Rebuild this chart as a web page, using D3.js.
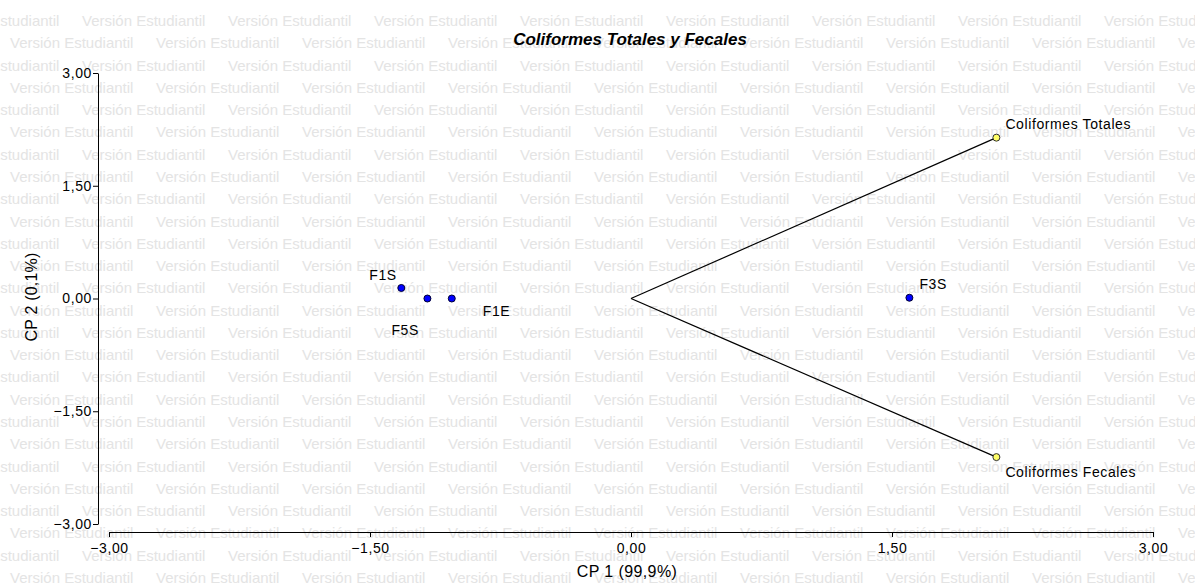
<!DOCTYPE html>
<html>
<head>
<meta charset="utf-8">
<script src="https://cdn.jsdelivr.net/npm/d3@7"></script>
<style>
  body { margin: 0; background: #fff; }
  text { font-family: "Liberation Sans", Arial, sans-serif; }
</style>
</head>
<body>
<div id="chart"></div>
<script>
// observations (blue) and variables (yellow)
var obsNames = ["F1S", "F5S", "F1E", "F3S"];
var obsX = [-1.32, -1.17, -1.03, 1.60];
var obsY = [0.14, 0.0, 0.0, 0.01];

var varNames = ["Coliformes Totales", "Coliformes Fecales"];
var varX = [2.10, 2.10];
var varY = [2.14, -2.11];

var ticks = [-3, -1.5, 0, 1.5, 3];

var W = 1195, H = 586;

var svg = d3.select("#chart")
  .append("svg")
  .attr("width", W)
  .attr("height", H);

// watermark
var wm = svg.append("g").attr("fill", "#e4e4e4").style("font-size", "15px");
for (var r = 0; r < 26; r++) {
  var yy = 26 + r * 22.28;
  var off = (r % 2 == 0) ? -64 : 10;
  for (var c = 0; c < 9; c++) {
    wm.append("text")
      .attr("x", off + c * 146)
      .attr("y", yy)
      .text("Versión Estudiantil");
  }
}

// scales
var x = d3.scaleLinear().domain([-3, 3]).range([109, 1153]);
var y = d3.scaleLinear().domain([-3, 3]).range([524, 73]);

var fmt = function(d) { return d3.format(".2f")(d).replace(".", ","); };

// axes
var yAxis = svg.append("g")
  .attr("transform", "translate(98,0)")
  .call(d3.axisLeft(y).tickValues(ticks).tickFormat(fmt).tickSize(5).tickSizeOuter(0));
var xAxis = svg.append("g")
  .attr("transform", "translate(0,532)")
  .call(d3.axisBottom(x).tickValues(ticks).tickFormat(fmt).tickSize(5).tickSizeOuter(0));

[xAxis, yAxis].forEach(function(a) {
  a.selectAll("text")
    .style("font-family", "'Liberation Sans', Arial, sans-serif")
    .style("font-size", "14px")
    .style("letter-spacing", "0.6px")
    .attr("fill", "#000");
  a.selectAll("line").attr("stroke", "#000");
  a.select(".domain").attr("stroke", "#000");
});
yAxis.selectAll("text").attr("x", -6);
xAxis.selectAll("text").attr("y", 11);

// title and axis labels
svg.append("text")
  .attr("x", 630).attr("y", 45)
  .attr("text-anchor", "middle")
  .style("font-size", "17px")
  .style("font-weight", "bold")
  .style("font-style", "italic")
  .text("Coliformes Totales y Fecales");

svg.append("text")
  .attr("x", 627).attr("y", 577)
  .attr("text-anchor", "middle")
  .style("font-size", "16px")
  .style("letter-spacing", "0.4px")
  .text("CP 1 (99,9%)");

svg.append("text")
  .attr("transform", "translate(37,297) rotate(-90)")
  .attr("text-anchor", "middle")
  .style("font-size", "16px")
  .style("letter-spacing", "0.2px")
  .text("CP 2 (0,1%)");

// vectors from origin
svg.selectAll(".vec")
  .data(varX)
  .enter()
  .append("line")
  .attr("x1", x(0)).attr("y1", y(0))
  .attr("x2", function(d) { return x(d); })
  .attr("y2", function(d, i) { return y(varY[i]); })
  .attr("stroke", "#000")
  .attr("stroke-width", 1.2);

// observation points
svg.selectAll(".obs")
  .data(obsX)
  .enter()
  .append("circle")
  .attr("cx", function(d) { return x(d); })
  .attr("cy", function(d, i) { return y(obsY[i]); })
  .attr("r", 3.5)
  .attr("fill", "#0000ff")
  .attr("stroke", "#000033");

// variable points
svg.selectAll(".var")
  .data(varX)
  .enter()
  .append("circle")
  .attr("cx", function(d) { return x(d); })
  .attr("cy", function(d, i) { return y(varY[i]); })
  .attr("r", 3.5)
  .attr("fill", "#ffff66")
  .attr("stroke", "#333");

// labels (offsets in px from point)
var obsDx = [-32, -36, 31, 10];
var obsDy = [-8, 36, 17, -9];
svg.selectAll(".obsLab")
  .data(obsNames)
  .enter()
  .append("text")
  .attr("x", function(d, i) { return x(obsX[i]) + obsDx[i]; })
  .attr("y", function(d, i) { return y(obsY[i]) + obsDy[i]; })
  .style("font-size", "14px")
  .style("letter-spacing", "0.6px")
  .text(function(d) { return d; });

var varDy = [-9, 20];
svg.selectAll(".varLab")
  .data(varNames)
  .enter()
  .append("text")
  .attr("x", function(d, i) { return x(varX[i]) + 9; })
  .attr("y", function(d, i) { return y(varY[i]) + varDy[i]; })
  .style("font-size", "14px")
  .style("letter-spacing", "0.6px")
  .text(function(d) { return d; });
</script>
</body>
</html>
